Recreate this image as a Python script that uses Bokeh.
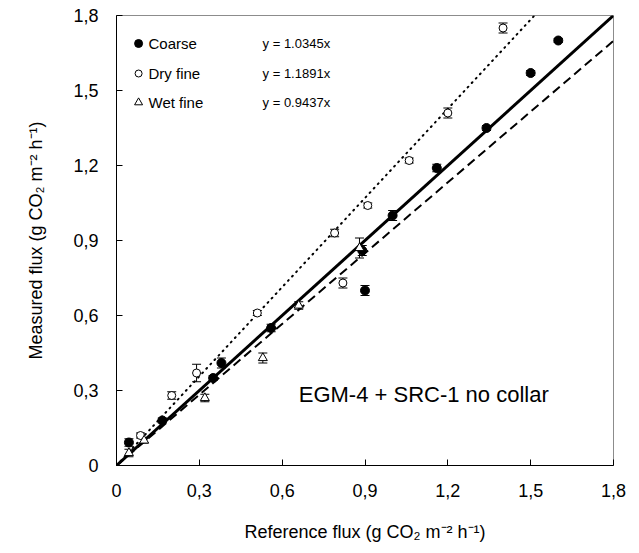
from bokeh.plotting import figure
from bokeh.models import Range1d, FixedTicker, Label, Whisker, ColumnDataSource
from bokeh.embed import file_html
from bokeh.resources import INLINE

# ---------------- data ----------------
coarse_x = [0.045, 0.166, 0.35, 0.38, 0.56, 0.89, 0.90, 1.00, 1.16, 1.34, 1.50, 1.60]
coarse_y = [0.092, 0.18, 0.35, 0.41, 0.55, 0.86, 0.70, 1.00, 1.19, 1.35, 1.57, 1.70]
coarse_err = [0.015, 0.01, 0.01, 0.02, 0.015, 0.02, 0.02, 0.02, 0.015, 0.01, 0.01, 0.008]

dry_x = [0.087, 0.20, 0.29, 0.51, 0.79, 0.82, 0.91, 1.06, 1.20, 1.40]
dry_y = [0.12, 0.28, 0.37, 0.61, 0.93, 0.73, 1.04, 1.22, 1.41, 1.75]
dry_err = [0.01, 0.015, 0.035, 0.01, 0.015, 0.02, 0.01, 0.01, 0.02, 0.02]

wet_x = [0.045, 0.10, 0.32, 0.53, 0.66, 0.88]
wet_y = [0.05, 0.10, 0.27, 0.43, 0.64, 0.87]
wet_err = [0.015, 0.01, 0.015, 0.02, 0.015, 0.04]

line_x = [0.0, 1.8]
one_to_one_slope = 1.0
dry_slope = 1.1891
wet_slope = 0.9437

legend_labels = ["Coarse", "Dry fine", "Wet fine"]
equations = ["y = 1.0345x", "y = 1.1891x", "y = 0.9437x"]

ticks = [0, 0.3, 0.6, 0.9, 1.2, 1.5, 1.8]
tick_labels = ["0", "0,3", "0,6", "0,9", "1,2", "1,5", "1,8"]

FONT = "Liberation Sans"

p = figure(width=639, height=553, x_range=Range1d(0, 1.8), y_range=Range1d(0, 1.8),
           output_backend="svg", toolbar_location=None,
           min_border_left=116, min_border_right=26, min_border_top=15, min_border_bottom=88)

p.grid.visible = False
p.outline_line_color = "#8c8c8c"
p.outline_line_width = 1
p.background_fill_color = "white"
p.border_fill_color = "white"

for ax in (p.xaxis[0], p.yaxis[0]):
    ax.ticker = FixedTicker(ticks=ticks)
    ax.major_label_overrides = {t: l for t, l in zip(ticks, tick_labels)}
    ax.major_tick_in = 6
    ax.major_tick_out = 0
    ax.minor_tick_in = 0
    ax.minor_tick_out = 0
    ax.axis_line_color = "black"
    ax.major_tick_line_color = "black"
    ax.major_label_text_font = FONT
    ax.major_label_text_font_size = "18px"
    ax.major_label_text_color = "black"
    ax.axis_label_text_font = FONT
    ax.axis_label_text_font_size = "18px"
    ax.axis_label_text_font_style = "normal"
    ax.axis_label_text_color = "black"

p.xaxis[0].axis_label = "Reference flux (g CO\u2082 m\u207b\u00b2 h\u207b\u00b9)"
p.yaxis[0].axis_label = "Measured flux (g CO\u2082 m\u207b\u00b2 h\u207b\u00b9)"
p.xaxis[0].major_label_standoff = 18
p.xaxis[0].axis_label_standoff = 22
p.yaxis[0].major_label_standoff = 18
p.yaxis[0].axis_label_standoff = 24

# regression / reference lines
p.line(line_x, [one_to_one_slope * v for v in line_x], line_color="black", line_width=3)
p.line(line_x, [dry_slope * v for v in line_x], line_color="black", line_width=2,
       line_dash="1 5", line_cap="round")
p.line(line_x, [wet_slope * v for v in line_x], line_color="black", line_width=2,
       line_dash="9 5")

def add_err(xs, ys, es):
    src = ColumnDataSource(dict(x=xs, lo=[y - e for y, e in zip(ys, es)],
                                hi=[y + e for y, e in zip(ys, es)]))
    w = Whisker(source=src, base="x", lower="lo", upper="hi", dimension="height",
                line_color="black", line_width=1)
    w.upper_head.size = 9
    w.lower_head.size = 9
    w.upper_head.line_color = "black"
    w.lower_head.line_color = "black"
    p.add_layout(w)

add_err(coarse_x, coarse_y, coarse_err)
add_err(dry_x, dry_y, dry_err)
add_err(wet_x, wet_y, wet_err)

p.scatter(coarse_x, coarse_y, marker="circle", size=9, fill_color="black", line_color="black")
p.scatter(dry_x, dry_y, marker="circle", size=8, fill_color="white", line_color="black", line_width=1)
p.scatter(wet_x, wet_y, marker="triangle", size=9, fill_color="white", line_color="black", line_width=1)

# manual legend
leg_x = [0.08, 0.08, 0.08]
leg_y = [1.688, 1.568, 1.452]
p.scatter([leg_x[0]], [leg_y[0]], marker="circle", size=8, fill_color="black", line_color="black")
p.scatter([leg_x[1]], [leg_y[1]], marker="circle", size=7, fill_color="white", line_color="black")
p.scatter([leg_x[2]], [leg_y[2]], marker="triangle", size=8, fill_color="white", line_color="black")
for lab, yy in zip(legend_labels, leg_y):
    p.add_layout(Label(x=0.116, y=yy, text=lab, text_font=FONT, text_font_size="15px",
                       text_baseline="middle", text_color="black"))
for eq, yy in zip(equations, leg_y):
    p.add_layout(Label(x=0.529, y=yy, text=eq, text_font=FONT, text_font_size="13px",
                       text_baseline="middle", text_color="black"))

p.add_layout(Label(x=0.66, y=0.285, text="EGM-4 + SRC-1 no collar", text_font=FONT,
                   text_font_size="22px", text_baseline="middle", text_color="black"))

open("out.html", "w").write(file_html(p, INLINE))
